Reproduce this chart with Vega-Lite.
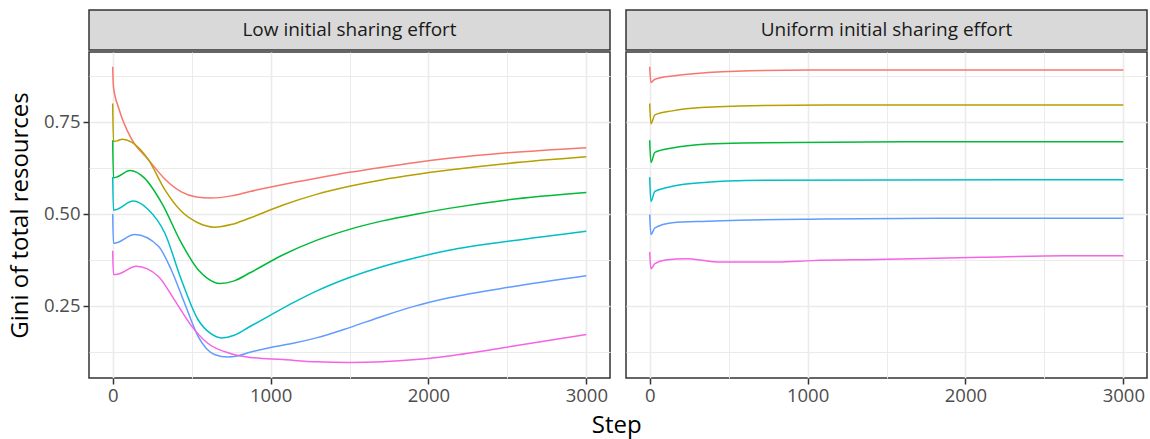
{
  "$schema": "https://vega.github.io/schema/vega-lite/v6.json",
  "padding": {"left": 7, "top": 9, "right": 2, "bottom": 2},
  "background": "white",
  "config": {
    "font": "Open Sans",
    "view": {"stroke": "#333333", "strokeWidth": 1.5},
    "axis": {
      "labelFont": "Open Sans", "labelFontSize": 18.5, "labelColor": "#4D4D4D",
      "tickColor": "#333333", "tickSize": 6, "tickWidth": 1.5, "domain": false,
      "gridColor": "#EBEBEB", "gridWidth": 1.6,
      "titleFont": "Open Sans", "titleFontSize": 24, "titleFontWeight": "normal", "titleColor": "#000000"
    },
    "title": {"font": "Open Sans", "fontSize": 24, "fontWeight": "normal", "color": "#000000"}
  },
  "title": {"text": "Step", "orient": "bottom", "anchor": "middle", "dx": 39, "offset": 9},
  "datasets": {
    "low": [
      {"series": "0.9", "step": 0, "gini": 0.90}, {"series": "0.9", "step": 5, "gini": 0.845}, {"series": "0.9", "step": 40, "gini": 0.785}, {"series": "0.9", "step": 120, "gini": 0.703}, {"series": "0.9", "step": 225, "gini": 0.648}, {"series": "0.9", "step": 330, "gini": 0.595}, {"series": "0.9", "step": 435, "gini": 0.560}, {"series": "0.9", "step": 530, "gini": 0.546}, {"series": "0.9", "step": 620, "gini": 0.543}, {"series": "0.9", "step": 750, "gini": 0.549}, {"series": "0.9", "step": 870, "gini": 0.561}, {"series": "0.9", "step": 1080, "gini": 0.580}, {"series": "0.9", "step": 1290, "gini": 0.597}, {"series": "0.9", "step": 1500, "gini": 0.613}, {"series": "0.9", "step": 1710, "gini": 0.627}, {"series": "0.9", "step": 1920, "gini": 0.640}, {"series": "0.9", "step": 2130, "gini": 0.651}, {"series": "0.9", "step": 2500, "gini": 0.666}, {"series": "0.9", "step": 3000, "gini": 0.680},
      {"series": "0.8", "step": 0, "gini": 0.80}, {"series": "0.8", "step": 5, "gini": 0.697}, {"series": "0.8", "step": 30, "gini": 0.699}, {"series": "0.8", "step": 60, "gini": 0.703}, {"series": "0.8", "step": 120, "gini": 0.695}, {"series": "0.8", "step": 225, "gini": 0.648}, {"series": "0.8", "step": 330, "gini": 0.566}, {"series": "0.8", "step": 435, "gini": 0.507}, {"series": "0.8", "step": 540, "gini": 0.476}, {"series": "0.8", "step": 645, "gini": 0.464}, {"series": "0.8", "step": 750, "gini": 0.471}, {"series": "0.8", "step": 870, "gini": 0.489}, {"series": "0.8", "step": 1080, "gini": 0.524}, {"series": "0.8", "step": 1290, "gini": 0.553}, {"series": "0.8", "step": 1500, "gini": 0.575}, {"series": "0.8", "step": 1710, "gini": 0.593}, {"series": "0.8", "step": 1920, "gini": 0.607}, {"series": "0.8", "step": 2130, "gini": 0.619}, {"series": "0.8", "step": 2500, "gini": 0.637}, {"series": "0.8", "step": 3000, "gini": 0.655},
      {"series": "0.7", "step": 0, "gini": 0.70}, {"series": "0.7", "step": 5, "gini": 0.598}, {"series": "0.7", "step": 30, "gini": 0.601}, {"series": "0.7", "step": 110, "gini": 0.618}, {"series": "0.7", "step": 200, "gini": 0.598}, {"series": "0.7", "step": 310, "gini": 0.530}, {"series": "0.7", "step": 435, "gini": 0.421}, {"series": "0.7", "step": 540, "gini": 0.349}, {"series": "0.7", "step": 600, "gini": 0.325}, {"series": "0.7", "step": 680, "gini": 0.311}, {"series": "0.7", "step": 770, "gini": 0.318}, {"series": "0.7", "step": 870, "gini": 0.340}, {"series": "0.7", "step": 1080, "gini": 0.389}, {"series": "0.7", "step": 1290, "gini": 0.428}, {"series": "0.7", "step": 1500, "gini": 0.458}, {"series": "0.7", "step": 1710, "gini": 0.481}, {"series": "0.7", "step": 1920, "gini": 0.499}, {"series": "0.7", "step": 2130, "gini": 0.515}, {"series": "0.7", "step": 2500, "gini": 0.538}, {"series": "0.7", "step": 3000, "gini": 0.558},
      {"series": "0.6", "step": 0, "gini": 0.60}, {"series": "0.6", "step": 5, "gini": 0.510}, {"series": "0.6", "step": 30, "gini": 0.513}, {"series": "0.6", "step": 130, "gini": 0.535}, {"series": "0.6", "step": 225, "gini": 0.512}, {"series": "0.6", "step": 330, "gini": 0.448}, {"series": "0.6", "step": 435, "gini": 0.321}, {"series": "0.6", "step": 540, "gini": 0.213}, {"series": "0.6", "step": 620, "gini": 0.175}, {"series": "0.6", "step": 690, "gini": 0.163}, {"series": "0.6", "step": 770, "gini": 0.170}, {"series": "0.6", "step": 870, "gini": 0.194}, {"series": "0.6", "step": 1000, "gini": 0.225}, {"series": "0.6", "step": 1150, "gini": 0.260}, {"series": "0.6", "step": 1290, "gini": 0.290}, {"series": "0.6", "step": 1500, "gini": 0.327}, {"series": "0.6", "step": 1710, "gini": 0.357}, {"series": "0.6", "step": 1920, "gini": 0.381}, {"series": "0.6", "step": 2130, "gini": 0.401}, {"series": "0.6", "step": 2530, "gini": 0.427}, {"series": "0.6", "step": 3000, "gini": 0.453},
      {"series": "0.5", "step": 0, "gini": 0.50}, {"series": "0.5", "step": 5, "gini": 0.420}, {"series": "0.5", "step": 20, "gini": 0.421}, {"series": "0.5", "step": 140, "gini": 0.444}, {"series": "0.5", "step": 290, "gini": 0.412}, {"series": "0.5", "step": 370, "gini": 0.349}, {"series": "0.5", "step": 455, "gini": 0.258}, {"series": "0.5", "step": 540, "gini": 0.168}, {"series": "0.5", "step": 645, "gini": 0.118}, {"series": "0.5", "step": 730, "gini": 0.111}, {"series": "0.5", "step": 790, "gini": 0.114}, {"series": "0.5", "step": 870, "gini": 0.124}, {"series": "0.5", "step": 1000, "gini": 0.137}, {"series": "0.5", "step": 1150, "gini": 0.149}, {"series": "0.5", "step": 1290, "gini": 0.163}, {"series": "0.5", "step": 1500, "gini": 0.191}, {"series": "0.5", "step": 1710, "gini": 0.222}, {"series": "0.5", "step": 1920, "gini": 0.250}, {"series": "0.5", "step": 2130, "gini": 0.272}, {"series": "0.5", "step": 2530, "gini": 0.302}, {"series": "0.5", "step": 3000, "gini": 0.332},
      {"series": "0.4", "step": 0, "gini": 0.40}, {"series": "0.4", "step": 5, "gini": 0.335}, {"series": "0.4", "step": 20, "gini": 0.335}, {"series": "0.4", "step": 150, "gini": 0.358}, {"series": "0.4", "step": 290, "gini": 0.330}, {"series": "0.4", "step": 390, "gini": 0.267}, {"series": "0.4", "step": 500, "gini": 0.195}, {"series": "0.4", "step": 600, "gini": 0.149}, {"series": "0.4", "step": 750, "gini": 0.120}, {"series": "0.4", "step": 870, "gini": 0.110}, {"series": "0.4", "step": 1080, "gini": 0.104}, {"series": "0.4", "step": 1290, "gini": 0.098}, {"series": "0.4", "step": 1500, "gini": 0.096}, {"series": "0.4", "step": 1710, "gini": 0.098}, {"series": "0.4", "step": 1920, "gini": 0.104}, {"series": "0.4", "step": 2130, "gini": 0.114}, {"series": "0.4", "step": 2530, "gini": 0.140}, {"series": "0.4", "step": 3000, "gini": 0.172}
    ],
    "uniform": [
      {"series": "0.9", "step": 0, "gini": 0.90}, {"series": "0.9", "step": 8, "gini": 0.857}, {"series": "0.9", "step": 33, "gini": 0.866}, {"series": "0.9", "step": 144, "gini": 0.875}, {"series": "0.9", "step": 366, "gini": 0.884}, {"series": "0.9", "step": 544, "gini": 0.888}, {"series": "0.9", "step": 1010, "gini": 0.891}, {"series": "0.9", "step": 3000, "gini": 0.891},
      {"series": "0.8", "step": 0, "gini": 0.80}, {"series": "0.8", "step": 8, "gini": 0.745}, {"series": "0.8", "step": 33, "gini": 0.769}, {"series": "0.8", "step": 144, "gini": 0.780}, {"series": "0.8", "step": 366, "gini": 0.790}, {"series": "0.8", "step": 566, "gini": 0.793}, {"series": "0.8", "step": 1120, "gini": 0.796}, {"series": "0.8", "step": 3000, "gini": 0.796},
      {"series": "0.7", "step": 0, "gini": 0.70}, {"series": "0.7", "step": 8, "gini": 0.640}, {"series": "0.7", "step": 33, "gini": 0.667}, {"series": "0.7", "step": 144, "gini": 0.679}, {"series": "0.7", "step": 366, "gini": 0.690}, {"series": "0.7", "step": 588, "gini": 0.693}, {"series": "0.7", "step": 1850, "gini": 0.696}, {"series": "0.7", "step": 3000, "gini": 0.696},
      {"series": "0.6", "step": 0, "gini": 0.60}, {"series": "0.6", "step": 8, "gini": 0.534}, {"series": "0.6", "step": 33, "gini": 0.561}, {"series": "0.6", "step": 144, "gini": 0.575}, {"series": "0.6", "step": 366, "gini": 0.586}, {"series": "0.6", "step": 610, "gini": 0.591}, {"series": "0.6", "step": 2470, "gini": 0.593}, {"series": "0.6", "step": 3000, "gini": 0.593},
      {"series": "0.5", "step": 0, "gini": 0.498}, {"series": "0.5", "step": 8, "gini": 0.444}, {"series": "0.5", "step": 33, "gini": 0.462}, {"series": "0.5", "step": 144, "gini": 0.476}, {"series": "0.5", "step": 366, "gini": 0.480}, {"series": "0.5", "step": 566, "gini": 0.483}, {"series": "0.5", "step": 1100, "gini": 0.486}, {"series": "0.5", "step": 1830, "gini": 0.488}, {"series": "0.5", "step": 3000, "gini": 0.488},
      {"series": "0.4", "step": 0, "gini": 0.396}, {"series": "0.4", "step": 8, "gini": 0.351}, {"series": "0.4", "step": 33, "gini": 0.365}, {"series": "0.4", "step": 100, "gini": 0.375}, {"series": "0.4", "step": 233, "gini": 0.378}, {"series": "0.4", "step": 366, "gini": 0.372}, {"series": "0.4", "step": 444, "gini": 0.369}, {"series": "0.4", "step": 810, "gini": 0.369}, {"series": "0.4", "step": 1030, "gini": 0.373}, {"series": "0.4", "step": 1430, "gini": 0.376}, {"series": "0.4", "step": 2100, "gini": 0.382}, {"series": "0.4", "step": 2630, "gini": 0.386}, {"series": "0.4", "step": 3000, "gini": 0.386}
    ]
  },
  "spacing": 14,
  "hconcat": [
    {
      "spacing": 0,
      "vconcat": [
        {
          "width": 521, "height": 40,
          "view": {"fill": "#D9D9D9", "stroke": "#333333", "strokeWidth": 1.5},
          "data": {"values": [{"label": "Low initial sharing effort"}]},
          "mark": {"type": "text", "fontSize": 19, "color": "#1A1A1A", "font": "Open Sans", "baseline": "middle", "align": "center"},
          "encoding": {"text": {"field": "label"}}
        },
        {
          "width": 521, "height": 326,
          "data": {"name": "low"},
          "view": {"fill": "white", "stroke": "#333333", "strokeWidth": 1.5},
          "resolve": {"axis": {"x": "independent", "y": "independent"}},
          "layer": [
            {
              "mark": {"type": "line", "opacity": 0},
              "encoding": {
                "x": {"field": "step", "type": "quantitative", "scale": {"domain": [-150, 3150], "nice": false, "zero": false},
                      "axis": {"orient": "top", "values": [500, 1500, 2500], "grid": true, "gridWidth": 1, "labels": false, "ticks": false, "domain": false, "title": null}},
                "y": {"field": "gini", "type": "quantitative", "scale": {"domain": [0.054, 0.940], "nice": false, "zero": false},
                      "axis": {"orient": "right", "values": [0.125, 0.375, 0.625, 0.875], "grid": true, "gridWidth": 1, "labels": false, "ticks": false, "domain": false, "title": null}},
                "detail": {"field": "series"}
              }
            },
            {
              "mark": {"type": "line", "strokeWidth": 1.5, "interpolate": "monotone"},
              "encoding": {
                "x": {"field": "step", "type": "quantitative", "scale": {"domain": [-150, 3150], "nice": false, "zero": false},
                      "axis": {"orient": "bottom", "values": [0, 1000, 2000, 3000], "format": "d", "grid": true, "labelPadding": 2, "title": null}},
                "y": {"field": "gini", "type": "quantitative", "scale": {"domain": [0.054, 0.940], "nice": false, "zero": false},
                      "axis": {"orient": "left", "values": [0.25, 0.5, 0.75], "format": ".2f", "grid": true, "labelPadding": 3, "title": "Gini of total resources", "titlePadding": 11}},
                "color": {"field": "series", "type": "nominal", "legend": null,
                          "scale": {"domain": ["0.9", "0.8", "0.7", "0.6", "0.5", "0.4"], "range": ["#F8766D", "#B79F00", "#00BA38", "#00BFC4", "#619CFF", "#F564E3"]}}
              }
            }
          ]
        }
      ]
    },
    {
      "spacing": 0,
      "vconcat": [
        {
          "width": 521, "height": 40,
          "view": {"fill": "#D9D9D9", "stroke": "#333333", "strokeWidth": 1.5},
          "data": {"values": [{"label": "Uniform initial sharing effort"}]},
          "mark": {"type": "text", "fontSize": 19, "color": "#1A1A1A", "font": "Open Sans", "baseline": "middle", "align": "center"},
          "encoding": {"text": {"field": "label"}}
        },
        {
          "width": 521, "height": 326,
          "data": {"name": "uniform"},
          "view": {"fill": "white", "stroke": "#333333", "strokeWidth": 1.5},
          "resolve": {"axis": {"x": "independent", "y": "independent"}},
          "layer": [
            {
              "mark": {"type": "line", "opacity": 0},
              "encoding": {
                "x": {"field": "step", "type": "quantitative", "scale": {"domain": [-150, 3150], "nice": false, "zero": false},
                      "axis": {"orient": "top", "values": [500, 1500, 2500], "grid": true, "gridWidth": 1, "labels": false, "ticks": false, "domain": false, "title": null}},
                "y": {"field": "gini", "type": "quantitative", "scale": {"domain": [0.054, 0.940], "nice": false, "zero": false},
                      "axis": {"orient": "right", "values": [0.125, 0.375, 0.625, 0.875], "grid": true, "gridWidth": 1, "labels": false, "ticks": false, "domain": false, "title": null}},
                "detail": {"field": "series"}
              }
            },
            {
              "mark": {"type": "line", "strokeWidth": 1.5, "interpolate": "monotone"},
              "encoding": {
                "x": {"field": "step", "type": "quantitative", "scale": {"domain": [-150, 3150], "nice": false, "zero": false},
                      "axis": {"orient": "bottom", "values": [0, 1000, 2000, 3000], "format": "d", "grid": true, "labelPadding": 2, "title": null}},
                "y": {"field": "gini", "type": "quantitative", "scale": {"domain": [0.054, 0.940], "nice": false, "zero": false},
                      "axis": {"orient": "left", "values": [0.25, 0.5, 0.75], "grid": true, "labels": false, "ticks": false, "title": null}},
                "color": {"field": "series", "type": "nominal", "legend": null,
                          "scale": {"domain": ["0.9", "0.8", "0.7", "0.6", "0.5", "0.4"], "range": ["#F8766D", "#B79F00", "#00BA38", "#00BFC4", "#619CFF", "#F564E3"]}}
              }
            }
          ]
        }
      ]
    }
  ]
}
